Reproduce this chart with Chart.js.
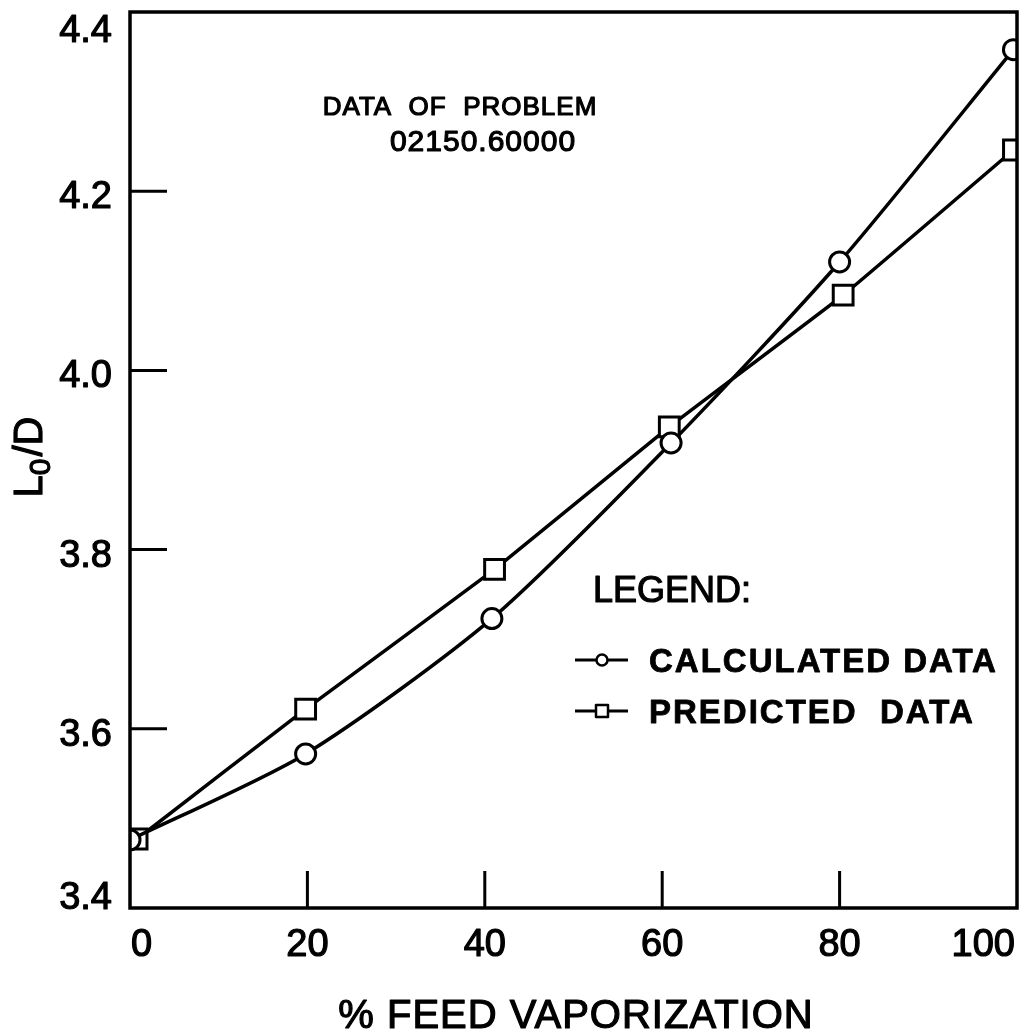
<!DOCTYPE html>
<html>
<head>
<meta charset="utf-8">
<script src="https://cdn.jsdelivr.net/npm/chart.js@4.4.1/dist/chart.umd.min.js"></script>
<style>
  html, body { margin: 0; padding: 0; background: #fff; }
  canvas { display: block; }
</style>
</head>
<body>
<canvas id="chart" width="1025" height="1034"></canvas>
<script>
// L0/D versus % feed vaporization
const calcX = [0, 19.8, 40.8, 61.0, 80.0, 99.6];
const calcY = [3.476, 3.572, 3.723, 3.919, 4.121, 4.358];
const predX = [0.8, 19.8, 41.1, 60.8, 80.4, 99.6];
const predY = [3.477, 3.622, 3.778, 3.937, 4.084, 4.246];

const xTicks = [0, 20, 40, 60, 80, 100];
const yTicks = [3.4, 3.6, 3.8, 4.0, 4.2, 4.4];

const seriesNames = ['CALCULATED DATA', 'PREDICTED  DATA'];
const noteLines = ['DATA  OF  PROBLEM', '02150.60000'];
const legendHeading = 'LEGEND:';
const xTitle = '% FEED VAPORIZATION';

const FONT = '"Liberation Sans", Arial, sans-serif';
const INK = '#000';

function pairs(xs, ys) { return xs.map((x, i) => ({ x, y: ys[i] })); }

// filled text with a thin outline so the lettering reads as heavy pen strokes
function inkText(ctx, s, x, y, w) {
  ctx.lineWidth = w;
  ctx.lineJoin = 'round';
  ctx.strokeText(s, x, y);
  ctx.fillText(s, x, y);
}

// Frame, inward ticks, tick labels, axis titles, annotation and legend
const framePlugin = {
  id: 'frame',
  afterDatasetsDraw(chart) {
    const { ctx, chartArea: a, scales: { x, y } } = chart;
    ctx.save();
    ctx.strokeStyle = INK;
    ctx.fillStyle = INK;

    // box
    ctx.lineWidth = 3.5;
    ctx.strokeRect(a.left, a.top, a.right - a.left, a.bottom - a.top);

    // inward ticks
    const tickLen = 37;
    ctx.lineWidth = 3;
    ctx.beginPath();
    xTicks.slice(1, -1).forEach(v => {
      const px = x.getPixelForValue(v);
      ctx.moveTo(px, a.bottom);
      ctx.lineTo(px, a.bottom - tickLen);
    });
    yTicks.slice(1, -1).forEach(v => {
      const py = y.getPixelForValue(v);
      ctx.moveTo(a.left, py);
      ctx.lineTo(a.left + tickLen, py);
    });
    ctx.stroke();

    // tick labels
    ctx.font = '38px ' + FONT;
    ctx.textBaseline = 'alphabetic';
    const cap = 28;
    xTicks.forEach((v, i) => {
      const px = x.getPixelForValue(v);
      ctx.textAlign = i === 0 ? 'left' : (i === xTicks.length - 1 ? 'right' : 'center');
      const ox = i === 0 ? 1 : (i === xTicks.length - 1 ? -2 : 0);
      inkText(ctx, String(v), px + ox, a.bottom + 48, 1.2);
    });
    ctx.textAlign = 'right';
    yTicks.forEach((v, i) => {
      const py = y.getPixelForValue(v);
      let base;
      if (i === 0) base = a.bottom + 1;
      else if (i === yTicks.length - 1) base = a.top + cap + 2;
      else base = py + cap / 2 + 3;
      inkText(ctx, v.toFixed(1), a.left - 18, base, 1.2);
    });

    // x axis title
    ctx.font = '40px ' + FONT;
    ctx.textAlign = 'center';
    ctx.letterSpacing = '1px';
    inkText(ctx, xTitle, 576, 1028, 1.2);
    ctx.letterSpacing = '0px';

    // y axis title: L with subscript 0, then /D
    ctx.save();
    ctx.translate(42, 457);
    ctx.rotate(-Math.PI / 2);
    ctx.textAlign = 'left';
    const big = '40px ' + FONT, small = '30px ' + FONT;
    ctx.font = big; const wL = ctx.measureText('L').width;
    ctx.font = small; const w0 = ctx.measureText('0').width;
    ctx.font = big; const wR = ctx.measureText('/D').width;
    const total = wL + w0 + 2 + wR;
    let cx = -total / 2;
    ctx.font = big; inkText(ctx, 'L', cx, 0, 1.2); cx += wL;
    ctx.font = small; inkText(ctx, '0', cx, 8, 1.2); cx += w0 + 2;
    ctx.font = big; inkText(ctx, '/D', cx, 0, 1.2);
    ctx.restore();

    // annotation
    ctx.textAlign = 'center';
    ctx.font = '26px ' + FONT;
    ctx.letterSpacing = '1px';
    inkText(ctx, noteLines[0], 460, 115, 1.2);
    ctx.font = '30px ' + FONT;
    inkText(ctx, noteLines[1], 483, 151, 1.2);
    ctx.letterSpacing = '0px';

    // legend
    ctx.textAlign = 'left';
    ctx.font = '36px ' + FONT;
    inkText(ctx, legendHeading, 593, 602, 1.2);

    const rows = [
      { y: 660, style: 'circle' },
      { y: 711, style: 'rect' }
    ];
    rows.forEach((r, i) => {
      ctx.lineWidth = 3;
      ctx.beginPath();
      ctx.moveTo(575, r.y);
      ctx.lineTo(628, r.y);
      ctx.stroke();
      ctx.fillStyle = '#fff';
      ctx.beginPath();
      if (r.style === 'circle') {
        ctx.arc(602, r.y, 5.5, 0, Math.PI * 2);
      } else {
        ctx.rect(596, r.y - 6, 12, 12);
      }
      ctx.fill();
      ctx.lineWidth = 2.5;
      ctx.stroke();
      ctx.fillStyle = INK;
      ctx.font = 'bold 33px ' + FONT;
      ctx.letterSpacing = '2px';
      inkText(ctx, seriesNames[i], 649, r.y + 12, 0.8);
      ctx.letterSpacing = '0px';
    });

    ctx.restore();
  }
};

new Chart(document.getElementById('chart'), {
  type: 'line',
  data: {
    datasets: [
      {
        label: seriesNames[0],
        data: pairs(calcX, calcY),
        borderColor: INK,
        borderWidth: 3.5,
        tension: 0.25,
        pointStyle: 'circle',
        pointRadius: 10,
        pointBorderWidth: 3,
        pointBackgroundColor: '#fff',
        pointBorderColor: INK,
        clip: 0
      },
      {
        label: seriesNames[1],
        data: pairs(predX, predY),
        borderColor: INK,
        borderWidth: 3.5,
        tension: 0.1,
        pointStyle: 'rect',
        pointRadius: 14,
        pointBorderWidth: 3,
        pointBackgroundColor: '#fff',
        pointBorderColor: INK,
        clip: 0
      }
    ]
  },
  options: {
    responsive: false,
    animation: false,
    events: [],
    layout: { autoPadding: false, padding: { left: 130, top: 12, right: 8, bottom: 126 } },
    plugins: { legend: { display: false }, tooltip: { enabled: false } },
    scales: {
      x: { type: 'linear', min: 0, max: 100, display: false },
      y: { type: 'linear', min: 3.4, max: 4.4, display: false }
    }
  },
  plugins: [framePlugin]
});
</script>
</body>
</html>
